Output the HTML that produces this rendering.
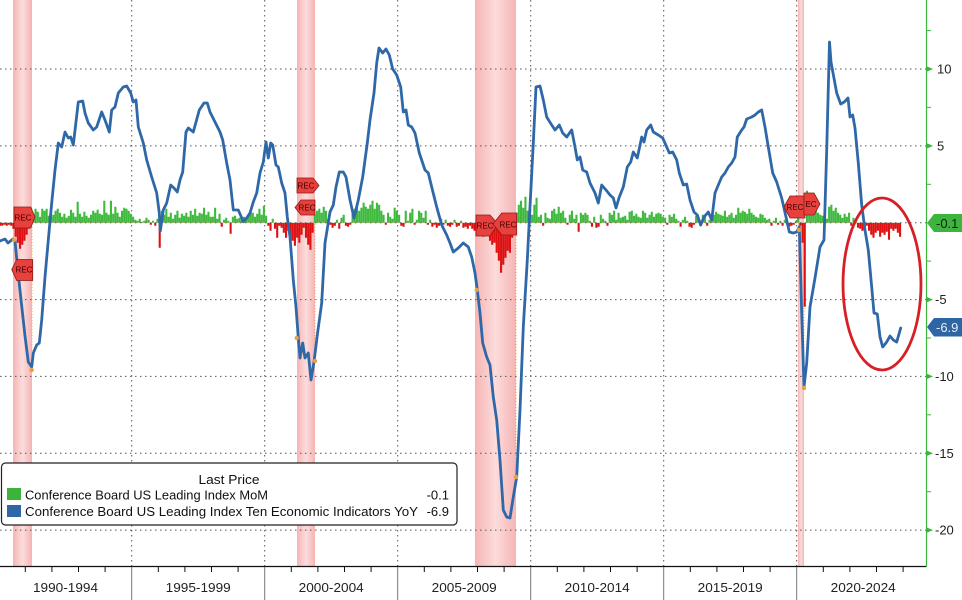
<!DOCTYPE html>
<html><head><meta charset="utf-8"><style>html,body{margin:0;padding:0;background:#fff}svg{display:block}</style></head>
<body>
<svg width="962" height="600" viewBox="0 0 962 600" xmlns="http://www.w3.org/2000/svg" xmlns:xlink="http://www.w3.org/1999/xlink" font-family="'Liberation Sans', sans-serif">
<defs>
<linearGradient id="rec" x1="0" y1="0" x2="1" y2="0">
<stop offset="0" stop-color="#f6b4b4"/><stop offset="0.5" stop-color="#fcdcdc"/><stop offset="1" stop-color="#f6b4b4"/>
</linearGradient>
<clipPath id="up"><rect x="0" y="0" width="926" height="222.7"/></clipPath>
<clipPath id="dn"><rect x="0" y="222.7" width="926" height="380"/></clipPath>
<path id="bars" fill="none" stroke-width="2.1" stroke-linecap="butt" d="M0.1,222.7
v3m2.2167,-3 v3m2.2167,-3 v2m2.2167,-2 v3m2.2167,-3 v2m2.2167,-2 v3m2.2167,-3 v6m2.2167,-6 v14m2.2167,-14 v20m2.2167,-20 v26m2.2167,-26 v22m2.2167,-22 v18m2.2167,-18
v12m2.2167,-12 v6m2.2167,-6 v-15m2.2167,15 v-9m2.2167,9 v-14m2.2167,14 v-11m2.2167,11 v-6m2.2167,6 v-14m2.2167,14 v-12m2.2167,12 v-14m2.2167,14 v-7m2.2167,7 v-6m2.2167,6
v-8m2.2167,8 v-12m2.2167,12 v-14m2.2167,14 v-10m2.2167,10 v-6m2.2167,6 v-9m2.2167,9 v-5m2.2167,5 v-7m2.2167,7 v-13m2.2167,13 v-10m2.2167,10 v-6m2.2167,6 v-21m2.2167,21
v-9m2.2167,9 v-6m2.2167,6 v-11m2.2167,11 v-7m2.2167,7 v-5m2.2167,5 v-8m2.2167,8 v-12m2.2167,12 v-10m2.2167,10 v-13m2.2167,13 v-9m2.2167,9 v-8m2.2167,8 v-22m2.2167,22
v-10m2.2167,10 v-8m2.2167,8 v-22m2.2167,22 v-9m2.2167,9 v-16m2.2167,16 v-10m2.2167,10 v-6m2.2167,6 v-12m2.2167,12 v-15m2.2167,15 v-14m2.2167,14 v-12m2.2167,12 v-9m2.2167,9
v-6m2.2167,6 v-3m2.2167,3 v-2m2.2167,2 v-4m2.2167,4 v-1m2.2167,1 v-2m2.2167,2 v-5m2.2167,5 v-3m2.2167,3 v2m2.2167,-2 v-2m2.2167,2 v3m2.2167,-3 v-4m2.2167,4
v25m2.2167,-25 v-12m2.2167,12 v-8m2.2167,8 v-14m2.2167,14 v-6m2.2167,6 v-10m2.2167,10 v-4m2.2167,4 v-8m2.2167,8 v-12m2.2167,12 v-5m2.2167,5 v-9m2.2167,9 v-7m2.2167,7
v-10m2.2167,10 v-6m2.2167,6 v-12m2.2167,12 v-8m2.2167,8 v-14m2.2167,14 v-7m2.2167,7 v-10m2.2167,10 v-9m2.2167,9 v-15m2.2167,15 v-8m2.2167,8 v-11m2.2167,11 v-6m2.2167,6
v-6m2.2167,6 v-15m2.2167,15 v-4m2.2167,4 v-9m2.2167,9 v4m2.2167,-4 v-3m2.2167,3 v-5m2.2167,5 v-2m2.2167,2 v11m2.2167,-11 v-6m2.2167,6 v-7m2.2167,7 v-4m2.2167,4
v-5m2.2167,5 v-3m2.2167,3 v-6m2.2167,6 v-4m2.2167,4 v-8m2.2167,8 v-12m2.2167,12 v-10m2.2167,10 v-6m2.2167,6 v-9m2.2167,9 v-14m2.2167,14 v-8m2.2167,8 v-17m2.2167,17
v-7m2.2167,7 v3m2.2167,-3 v8m2.2167,-8 v-4m2.2167,4 v6m2.2167,-6 v15m2.2167,-15 v3m2.2167,-3 v5m2.2167,-5 v10m2.2167,-10 v15m2.2167,-15 v8m2.2167,-8 v20m2.2167,-20
v18m2.2167,-18 v23m2.2167,-23 v15m2.2167,-15 v20m2.2167,-20 v12m2.2167,-12 v5m2.2167,-5 v15m2.2167,-15 v22m2.2167,-22 v27m2.2167,-27 v10m2.2167,-10 v-8m2.2167,8 v-12m2.2167,12
v-14m2.2167,14 v-10m2.2167,10 v-16m2.2167,16 v-12m2.2167,12 v-4m2.2167,4 v2m2.2167,-2 v5m2.2167,-5 v3m2.2167,-3 v-3m2.2167,3 v6m2.2167,-6 v-5m2.2167,5 v-8m2.2167,8
v3m2.2167,-3 v4m2.2167,-4 v2m2.2167,-2 v-10m2.2167,10 v-14m2.2167,14 v-18m2.2167,18 v-12m2.2167,12 v-15m2.2167,15 v-20m2.2167,20 v-16m2.2167,16 v-14m2.2167,14 v-18m2.2167,18
v-22m2.2167,22 v-14m2.2167,14 v-20m2.2167,20 v-18m2.2167,18 v-12m2.2167,12 v-8m2.2167,8 v2m2.2167,-2 v-10m2.2167,10 v-6m2.2167,6 v-4m2.2167,4 v-15m2.2167,15 v-12m2.2167,12
v-8m2.2167,8 v3m2.2167,-3 v4m2.2167,-4 v-12m2.2167,12 v-2m2.2167,2 v-10m2.2167,10 v-14m2.2167,14 v2m2.2167,-2 v-3m2.2167,3 v-12m2.2167,12 v-10m2.2167,10 v-5m2.2167,5
v-12m2.2167,12 v2m2.2167,-2 v-3m2.2167,3 v4m2.2167,-4 v2m2.2167,-2 v5m2.2167,-5 v3m2.2167,-3 v-4m2.2167,4 v2m2.2167,-2 v-3m2.2167,3 v3m2.2167,-3 v4m2.2167,-4
v2m2.2167,-2 v-3m2.2167,3 v4m2.2167,-4 v3m2.2167,-3 v-2m2.2167,2 v5m2.2167,-5 v4m2.2167,-4 v6m2.2167,-6 v3m2.2167,-3 v6m2.2167,-6 v8m2.2167,-8 v10m2.2167,-10
v12m2.2167,-12 v10m2.2167,-10 v14m2.2167,-14 v8m2.2167,-8 v10m2.2167,-10 v18m2.2167,-18 v22m2.2167,-22 v20m2.2167,-20 v30m2.2167,-30 v38m2.2167,-38 v50m2.2167,-50 v42m2.2167,-42
v35m2.2167,-35 v28m2.2167,-28 v30m2.2167,-30 v15m2.2167,-15 v5m2.2167,-5 v-10m2.2167,10 v-18m2.2167,18 v-22m2.2167,22 v-15m2.2167,15 v-26m2.2167,26 v-12m2.2167,12 v-18m2.2167,18
v-8m2.2167,8 v-18m2.2167,18 v-25m2.2167,25 v-6m2.2167,6 v-8m2.2167,8 v3m2.2167,-3 v-10m2.2167,10 v-5m2.2167,5 v-4m2.2167,4 v-12m2.2167,12 v-14m2.2167,14 v-9m2.2167,9
v-16m2.2167,16 v-10m2.2167,10 v-12m2.2167,12 v-5m2.2167,5 v2m2.2167,-2 v-8m2.2167,8 v-12m2.2167,12 v-4m2.2167,4 v-8m2.2167,8 v9m2.2167,-9 v-10m2.2167,10 v-8m2.2167,8
v-10m2.2167,10 v-8m2.2167,8 v-2m2.2167,2 v4m2.2167,-4 v-6m2.2167,6 v5m2.2167,-5 v4m2.2167,-4 v-8m2.2167,8 v-4m2.2167,4 v-2m2.2167,2 v3m2.2167,-3 v-10m2.2167,10
v-8m2.2167,8 v-12m2.2167,12 v-3m2.2167,3 v-10m2.2167,10 v-5m2.2167,5 v-6m2.2167,6 v-7m2.2167,7 v-3m2.2167,3 v-11m2.2167,11 v-12m2.2167,12 v-7m2.2167,7 v-9m2.2167,9
v-6m2.2167,6 v-5m2.2167,5 v-12m2.2167,12 v-10m2.2167,10 v-5m2.2167,5 v-8m2.2167,8 v-11m2.2167,11 v-6m2.2167,6 v-9m2.2167,9 v-10m2.2167,10 v-9m2.2167,9 v-6m2.2167,6
v-5m2.2167,5 v2m2.2167,-2 v-8m2.2167,8 v-6m2.2167,6 v-9m2.2167,9 v-4m2.2167,4 v-2m2.2167,2 v4m2.2167,-4 v-3m2.2167,3 v-6m2.2167,6 v-2m2.2167,2 v4m2.2167,-4
v5m2.2167,-5 v2m2.2167,-2 v-7m2.2167,7 v-4m2.2167,4 v3m2.2167,-3 v-8m2.2167,8 v-6m2.2167,6 v3m2.2167,-3 v-3m2.2167,3 v-5m2.2167,5 v-8m2.2167,8 v-11m2.2167,11
v-9m2.2167,9 v-8m2.2167,8 v-7m2.2167,7 v-12m2.2167,12 v-6m2.2167,6 v-8m2.2167,8 v-10m2.2167,10 v-5m2.2167,5 v-8m2.2167,8 v-15m2.2167,15 v-10m2.2167,10 v-12m2.2167,12
v-11m2.2167,11 v-9m2.2167,9 v-14m2.2167,14 v-10m2.2167,10 v-8m2.2167,8 v-6m2.2167,6 v-5m2.2167,5 v-9m2.2167,9 v-8m2.2167,8 v-5m2.2167,5 v-3m2.2167,3 v-4m2.2167,4
v3m2.2167,-3 v-2m2.2167,2 v-5m2.2167,5 v2m2.2167,-2 v-2m2.2167,2 v3m2.2167,-3 v-3m2.2167,3 v2m2.2167,-2 v4m2.2167,-4 v3m2.2167,-3 v2m2.2167,-2 v-2m2.2167,2
v-5m2.2167,5 v3m2.2167,-3 v20m2.2167,-20 v84m2.2167,-84 v-32m2.2167,32 v-18m2.2167,18 v-20m2.2167,20 v-16m2.2167,16 v-12m2.2167,12 v-10m2.2167,10 v-8m2.2167,8 v-7m2.2167,7
v-8m2.2167,8 v-4m2.2167,4 v-16m2.2167,16 v-18m2.2167,18 v-12m2.2167,12 v-15m2.2167,15 v-10m2.2167,10 v-8m2.2167,8 v-5m2.2167,5 v-9m2.2167,9 v-6m2.2167,6 v-10m2.2167,10
v3m2.2167,-3 v-5m2.2167,5 v-2m2.2167,2 v5m2.2167,-5 v6m2.2167,-6 v8m2.2167,-8 v5m2.2167,-5 v3m2.2167,-3 v8m2.2167,-8 v12m2.2167,-12 v15m2.2167,-15 v10m2.2167,-10
v8m2.2167,-8 v14m2.2167,-14 v10m2.2167,-10 v12m2.2167,-12 v9m2.2167,-9 v17m2.2167,-17 v6m2.2167,-6 v8m2.2167,-8 v6m2.2167,-6 v10m2.2167,-10 v14m2.2167,-14"/>
</defs>
<rect width="962" height="600" fill="#fff"/>
<!-- recession bands -->
<rect x="13" y="0" width="19" height="566" fill="url(#rec)"/>
<rect x="297" y="0" width="18" height="566" fill="url(#rec)"/>
<rect x="475" y="0" width="41" height="566" fill="url(#rec)"/>
<rect x="798" y="0" width="6" height="566" fill="url(#rec)"/>
<!-- grid -->
<g stroke="#555" stroke-width="1" stroke-dasharray="1.5,3.5">
<line x1="0" y1="69" x2="926" y2="69"/>
<line x1="0" y1="145.9" x2="926" y2="145.9"/>
<line x1="0" y1="222.7" x2="926" y2="222.7"/>
<line x1="0" y1="299.6" x2="926" y2="299.6"/>
<line x1="0" y1="376.4" x2="926" y2="376.4"/>
<line x1="0" y1="453.3" x2="926" y2="453.3"/>
<line x1="0" y1="530.1" x2="926" y2="530.1"/>
<line x1="131.7" y1="0" x2="131.7" y2="566"/>
<line x1="264.7" y1="0" x2="264.7" y2="566"/>
<line x1="397.7" y1="0" x2="397.7" y2="566"/>
<line x1="530.7" y1="0" x2="530.7" y2="566"/>
<line x1="663.7" y1="0" x2="663.7" y2="566"/>
<line x1="796.7" y1="0" x2="796.7" y2="566"/>
</g>
<!-- orange dotted recession drop lines -->
<g stroke="#f0a050" stroke-width="1" stroke-dasharray="1,2">
<line x1="32" y1="224" x2="32" y2="370"/>
<line x1="315" y1="224" x2="315" y2="361"/>
<line x1="516" y1="224" x2="516" y2="477"/>
<line x1="804" y1="224" x2="804" y2="388"/>
</g>
<!-- MoM bars -->
<g clip-path="url(#up)" stroke="#3fba3f"><use xlink:href="#bars" href="#bars"/></g>
<g clip-path="url(#dn)" stroke="#dd1111"><use xlink:href="#bars" href="#bars"/></g>
<!-- YoY line -->
<polyline fill="none" stroke="#2f68a8" stroke-width="2.8" stroke-linejoin="round" stroke-linecap="round" points="0,241 5,239 8,243 13,239 15,241 18,272 21.7,306 25,336 28.3,362 31.7,367 33.3,353 36.7,345 39.3,343 41.7,320 45,277 48.3,240 51.7,203 55,170 58.3,143 61.7,147 65,132 68.3,138 70.7,137 73.3,145 78.3,102 82.7,101 85,113 88.3,123 93.3,130 96.7,127 101.7,112 105,120 109.3,132 111.7,110 115,107 118.3,93 123.3,87 126.7,86 130.7,93 133.3,102 136,100 138.3,127 143.3,143 146.7,160 151.7,177 156.7,193 159.3,213 160.3,231 163.3,210 166.7,203 170.7,185 174,188 177.3,192 180,180 182.7,172 186,132 188.3,128 193.3,132 199.3,110 204,103 207.3,103 210,112 214,120 220,132 222.7,140 226.7,163 230,180 233.3,210 238.3,210 243.3,221.7 246.7,218 250,213 253.3,202 256.7,193 260,173 263.3,162 266,142 268.3,158 270.7,143 272.7,145 276,165 278.3,167 281.7,183 285,193 287.3,217 290,237 293.3,280 296,307 298.3,338 300,358 302.7,343 305,358 308.3,353 311,380 314,362 317.3,335 321.7,303 325,243 330,212 333.3,205 336,187 339.3,172 343.3,172 346,177 350,200 354,218 358.3,200 362.7,177 367.3,143 370,120 374,93 376.7,63 379,48 382.7,53 386,49 389.3,55 392.7,69 396.7,75 400.7,87 403.3,112 406,110 408.3,125 411.7,127 415,133 419.3,153 425,170 428.3,173 431.7,187 436.7,207 441.7,225 446.7,235 450,243 453.3,252 458.3,248 463.3,243 468.3,247 471.7,257 475,273 477.3,290 480,313 482.7,343 486.7,357 490,365 493.3,397 496.7,420 500,460 503.3,510 506.7,517 510,518 513.3,497 516.7,477 520,410 523.3,327 527.3,260 530.7,193 533.3,143 536,87 540,86 543.3,100 546.7,117 551.7,125 555,130 559.3,125 562.7,133 566.7,137 571.7,130 575,147 577.3,160 580,157 582.7,170 586.7,172 590,183 595,193 598.3,203 601.7,185 606,190 610,195 613.3,198 616,208 619.3,197 623.3,187 627.3,167 630.7,162 633.3,152 637.3,158 641.7,137 644,142 646.7,130 650.7,125 653.3,132 658.3,135 662.7,138 666.7,147 669.3,153 672.7,152 676.7,160 679.3,173 683.3,185 686.7,184 690,200 694,212 697.3,215 700.7,225 704,217 708.3,212 711.7,220 715,193 718.3,185 721.7,177 725,173 728.3,167 731.7,163 735,157 737.3,137 741.7,130 744,127 746.7,119 751.7,117 755,115 758.3,112 761.7,110 765,127 768.3,147 772.7,173 776.7,182 781.7,198 786,217 789.3,232 793.3,233 796.7,232 799.3,227 801.7,313 804,387 806.7,363 810,307 815,278 820,247 824,240 826.7,150 829.5,42 831,62 836.7,93 840.7,104 844.3,102 848,98 850,117 852.7,115 855,128 858.3,163 861.7,205 865,230 868.3,250 871.7,287 874,313 877.3,314 880,337 882.7,347 886.7,342 890,336 893.3,340 896.7,342 900.7,328"/>
<!-- orange dots -->
<g fill="#e8a040">
<circle cx="14" cy="240" r="2.2"/><circle cx="31.7" cy="370" r="2.2"/>
<circle cx="296.7" cy="338" r="2.2"/><circle cx="315" cy="361" r="2.2"/>
<circle cx="476.7" cy="290" r="2.2"/><circle cx="516" cy="477" r="2.2"/>
<circle cx="799" cy="230" r="2.2"/><circle cx="804" cy="388" r="2.2"/>
</g>
<!-- REC markers -->
<g fill="#e8403c" stroke="#8b1a1a" stroke-width="0.8">
<polygon points="14,207 30.7,207 35,217 30.7,228 14,228"/>
<polygon points="11.7,269.5 16.7,259.5 32.7,259.5 32.7,280.5 16.7,280.5"/>
<polygon points="297,178 313,178 319,185.5 313,193 297,193"/>
<polygon points="295,207.5 301,200 315,200 315,215 301,215"/>
<polygon points="476,215 490,215 498,224 490,236 476,236"/>
<polygon points="493,224 501.7,213 516.7,213 516.7,235 501.7,235"/>
<polygon points="784,207 790,196 805,196 805,218 790,218"/>
<polygon points="804,193 814,193 820,204 814,215 804,215"/>
</g>
<g font-size="8" fill="#3a0000" text-anchor="middle">
<text x="23" y="220.5">REC</text>
<text x="24" y="272.5">REC</text>
<text x="306" y="188.5">REC</text>
<text x="307" y="210.5">REC</text>
<text x="485" y="228.5">REC</text>
<text x="508" y="227.5">REC</text>
<text x="795" y="210">REC</text>
<text x="811" y="207">EC</text>
</g>
<!-- red ellipse -->
<ellipse cx="882" cy="284" rx="39" ry="86" fill="none" stroke="#d61f26" stroke-width="2.8"/>
<!-- axes -->
<line x1="0" y1="566.5" x2="926.5" y2="566.5" stroke="#111" stroke-width="1.2"/>
<line x1="926.5" y1="0" x2="926.5" y2="567" stroke="#3cb43c" stroke-width="1.2"/>
<g stroke="#111" stroke-width="1">
<line x1="25.3" y1="567" x2="25.3" y2="572"/><line x1="51.9" y1="567" x2="51.9" y2="572"/><line x1="78.5" y1="567" x2="78.5" y2="572"/><line x1="105.1" y1="567" x2="105.1" y2="572"/>
<line x1="158.3" y1="567" x2="158.3" y2="572"/><line x1="184.9" y1="567" x2="184.9" y2="572"/><line x1="211.5" y1="567" x2="211.5" y2="572"/><line x1="238.1" y1="567" x2="238.1" y2="572"/>
<line x1="291.3" y1="567" x2="291.3" y2="572"/><line x1="317.9" y1="567" x2="317.9" y2="572"/><line x1="344.5" y1="567" x2="344.5" y2="572"/><line x1="371.1" y1="567" x2="371.1" y2="572"/>
<line x1="424.3" y1="567" x2="424.3" y2="572"/><line x1="450.9" y1="567" x2="450.9" y2="572"/><line x1="477.5" y1="567" x2="477.5" y2="572"/><line x1="504.1" y1="567" x2="504.1" y2="572"/>
<line x1="557.3" y1="567" x2="557.3" y2="572"/><line x1="583.9" y1="567" x2="583.9" y2="572"/><line x1="610.5" y1="567" x2="610.5" y2="572"/><line x1="637.1" y1="567" x2="637.1" y2="572"/>
<line x1="690.3" y1="567" x2="690.3" y2="572"/><line x1="716.9" y1="567" x2="716.9" y2="572"/><line x1="743.5" y1="567" x2="743.5" y2="572"/><line x1="770.1" y1="567" x2="770.1" y2="572"/>
<line x1="823.3" y1="567" x2="823.3" y2="572"/><line x1="849.9" y1="567" x2="849.9" y2="572"/><line x1="876.5" y1="567" x2="876.5" y2="572"/><line x1="903.1" y1="567" x2="903.1" y2="572"/>
</g>
<g stroke="#777" stroke-width="1">
<line x1="131.7" y1="567" x2="131.7" y2="600"/><line x1="264.7" y1="567" x2="264.7" y2="600"/><line x1="397.7" y1="567" x2="397.7" y2="600"/>
<line x1="530.7" y1="567" x2="530.7" y2="600"/><line x1="663.7" y1="567" x2="663.7" y2="600"/><line x1="796.7" y1="567" x2="796.7" y2="600"/>
</g>
<g font-size="13" fill="#222" text-anchor="middle">
<text x="65.5" y="592" textLength="65" lengthAdjust="spacingAndGlyphs">1990-1994</text>
<text x="198.2" y="592" textLength="65" lengthAdjust="spacingAndGlyphs">1995-1999</text>
<text x="331.2" y="592" textLength="65" lengthAdjust="spacingAndGlyphs">2000-2004</text>
<text x="464.2" y="592" textLength="65" lengthAdjust="spacingAndGlyphs">2005-2009</text>
<text x="597.2" y="592" textLength="65" lengthAdjust="spacingAndGlyphs">2010-2014</text>
<text x="730.2" y="592" textLength="65" lengthAdjust="spacingAndGlyphs">2015-2019</text>
<text x="863.2" y="592" textLength="65" lengthAdjust="spacingAndGlyphs">2020-2024</text>
</g>
<!-- right axis ticks -->
<g fill="#3cb43c">
<polygon points="926,66 926,72 933,69"/><polygon points="926,142.9 926,148.9 933,145.9"/>
<polygon points="926,296.6 926,302.6 933,299.6"/><polygon points="926,373.4 926,379.4 933,376.4"/>
<polygon points="926,450.3 926,456.3 933,453.3"/><polygon points="926,527.1 926,533.1 933,530.1"/>
</g>
<g stroke="#3cb43c" stroke-width="1">
<line x1="926" y1="30.6" x2="931" y2="30.6"/><line x1="926" y1="107.4" x2="931" y2="107.4"/><line x1="926" y1="184.3" x2="931" y2="184.3"/>
<line x1="926" y1="261.1" x2="931" y2="261.1"/><line x1="926" y1="338" x2="931" y2="338"/><line x1="926" y1="414.8" x2="931" y2="414.8"/><line x1="926" y1="491.7" x2="931" y2="491.7"/>
</g>
<g font-size="13" fill="#222">
<text x="937" y="73.5">10</text>
<text x="937" y="150.4">5</text>
<text x="935" y="304.1">-5</text>
<text x="935" y="380.9">-10</text>
<text x="935" y="457.8">-15</text>
<text x="935" y="534.6">-20</text>
</g>
<!-- value tags -->
<polygon points="927,223 934,214 962,214 962,232 934,232" fill="#3db53d"/>
<text x="936" y="227.8" font-size="13" fill="#1a1a1a">-0.1</text>
<polygon points="927,327 934,318 962,318 962,336.5 934,336.5" fill="#2d65a5"/>
<text x="936" y="332" font-size="13" fill="#e8eef8">-6.9</text>
<!-- legend -->
<rect x="1.5" y="463" width="455.5" height="62" rx="4" ry="4" fill="#fff" stroke="#222" stroke-width="1.2"/>
<text x="229" y="484" font-size="13" fill="#111" text-anchor="middle" textLength="61" lengthAdjust="spacingAndGlyphs">Last Price</text>
<rect x="7" y="488" width="14" height="12" fill="#3cb43c"/>
<rect x="7" y="505" width="14" height="12" fill="#2f66a6"/>
<text x="25" y="499.5" font-size="13" fill="#111" textLength="243" lengthAdjust="spacingAndGlyphs">Conference Board US Leading Index MoM</text>
<text x="25" y="516" font-size="13" fill="#111" textLength="393" lengthAdjust="spacingAndGlyphs">Conference Board US Leading Index Ten Economic Indicators YoY</text>
<text x="449" y="499.5" font-size="13" fill="#111" text-anchor="end">-0.1</text>
<text x="449" y="516" font-size="13" fill="#111" text-anchor="end">-6.9</text>
</svg>
</body></html>
